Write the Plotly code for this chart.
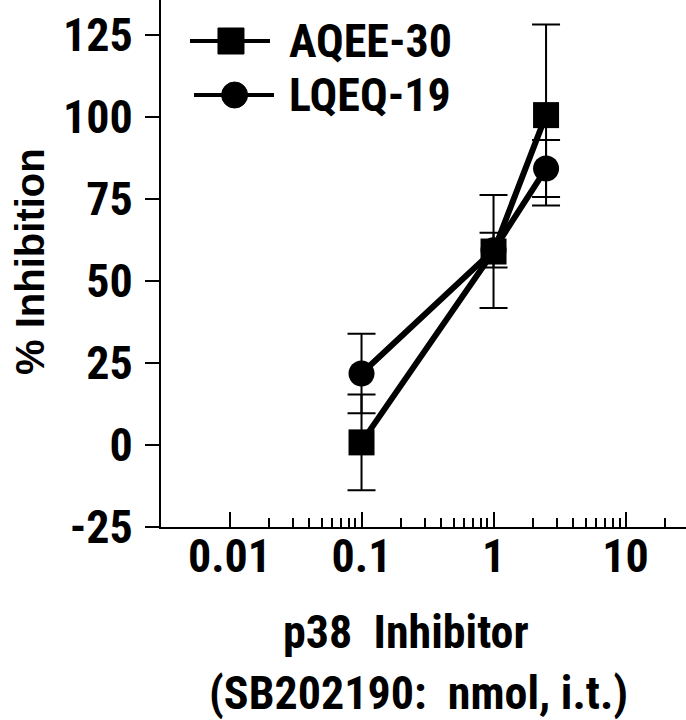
import plotly.graph_objects as go

# ---- data ----
dose_nmol = [0.1, 1, 2.5]
aqee30_mean = [0.8, 59.0, 100.6]
aqee30_err = [14.6, 17.2, 27.6]
lqeq19_mean = [21.8, 59.4, 84.3]
lqeq19_err = [12.1, 5.3, 8.7]

x_tickvals = [0.01, 0.1, 1, 10]
x_ticktext = ["0.01", "0.1", "1", "10"]
x_minor = [0.02, 0.03, 0.04, 0.05, 0.06, 0.07, 0.08, 0.09,
           0.2, 0.3, 0.4, 0.5, 0.6, 0.7, 0.8, 0.9,
           2, 3, 4, 5, 6, 7, 8, 9, 20]
y_tickvals = [-25, 0, 25, 50, 75, 100, 125]
y_ticktext = ["-25", "0", "25", "50", "75", "100", "125"]

NARROW = "Roboto Condensed, Liberation Sans Narrow, sans-serif"
WIDE = "Liberation Sans, Arial, sans-serif"

fig = go.Figure()

fig.add_trace(go.Scatter(
    x=dose_nmol, y=lqeq19_mean, name="LQEQ-19", mode="lines+markers",
    line=dict(color="black", width=6),
    marker=dict(symbol="circle", size=26, color="black"),
    error_y=dict(type="data", array=lqeq19_err, visible=True,
                 color="black", thickness=2, width=14),
    showlegend=False,
))
fig.add_trace(go.Scatter(
    x=dose_nmol, y=aqee30_mean, name="AQEE-30", mode="lines+markers",
    line=dict(color="black", width=6),
    marker=dict(symbol="square", size=26, color="black"),
    error_y=dict(type="data", array=aqee30_err, visible=True,
                 color="black", thickness=2, width=14),
    showlegend=False,
))

fig.update_xaxes(
    type="log", range=[-2.519, 1.458], automargin=False,
    tickmode="array", tickvals=x_tickvals, ticktext=x_ticktext,
    ticks="inside", ticklen=15, tickwidth=2, tickcolor="black",
    showline=True, linecolor="black", linewidth=2,
    showgrid=False, zeroline=False,
    tickfont=dict(family=NARROW, size=46, color="black", weight="bold"),
    ticklabelstandoff=-12,
    minor=dict(tickmode="array", tickvals=x_minor, ticks="inside",
               ticklen=9, tickwidth=2, tickcolor="black", showgrid=False),
)
fig.update_yaxes(
    range=[-25, 135.7], automargin=False,
    tickmode="array", tickvals=y_tickvals, ticktext=y_ticktext,
    ticks="outside", ticklen=14, tickwidth=2, tickcolor="black",
    showline=True, linecolor="black", linewidth=2,
    showgrid=False, zeroline=False,
    tickfont=dict(family=NARROW, size=46, color="black", weight="bold"),
    ticklabelstandoff=3,
)

# ---- legend (drawn manually to match long sample lines) ----
legend_items = [("AQEE-30", "rect", 0.9222), ("LQEQ-19", "circle", 0.8197)]
shapes = []
annotations = []
for label, sym, yy in legend_items:
    x0, x1, xm = (0.0552, 0.2076, 0.1333) if sym == "rect" else (0.0629, 0.2152, 0.1402)
    shapes.append(dict(type="line", xref="paper", yref="paper", x0=x0, x1=x1,
                       y0=yy, y1=yy, line=dict(color="black", width=4)))
    shapes.append(dict(type=sym, xref="paper", yref="paper",
                       xsizemode="pixel", ysizemode="pixel",
                       xanchor=xm, yanchor=yy, x0=-13, x1=13, y0=-13, y1=13,
                       fillcolor="black", line=dict(color="black", width=1)))
    annotations.append(dict(text=label, xref="paper", yref="paper", x=0.2400, y=yy,
                            xanchor="left", yanchor="middle", showarrow=False,
                            font=dict(family=NARROW, size=46, color="black", weight="bold")))

annotations.append(dict(text="% Inhibition", xref="paper", yref="paper",
                        x=-0.2495, y=0.503, xanchor="center", yanchor="middle",
                        textangle=-90, showarrow=False,
                        font=dict(family=WIDE, size=40, color="black", weight="bold")))
annotations.append(dict(text="p38  Inhibitor", xref="paper", yref="paper",
                        x=0.466, y=-0.2000, xanchor="center", yanchor="middle",
                        showarrow=False,
                        font=dict(family=NARROW, size=46, color="black", weight="bold")))
annotations.append(dict(text="(SB202190:  nmol, i.t.)", xref="paper", yref="paper",
                        x=0.49, y=-0.3150, xanchor="center", yanchor="middle",
                        showarrow=False,
                        font=dict(family=NARROW, size=46, color="black", weight="bold")))

fig.update_layout(
    width=686, height=720,
    margin=dict(l=161, r=0, t=0, b=193),
    paper_bgcolor="white", plot_bgcolor="white",
    shapes=shapes, annotations=annotations,
    showlegend=False,
)

fig.write_html("out.html", config={"displayModeBar": False},
               post_script="document.body.style.margin='0';document.body.style.overflow='hidden';")
